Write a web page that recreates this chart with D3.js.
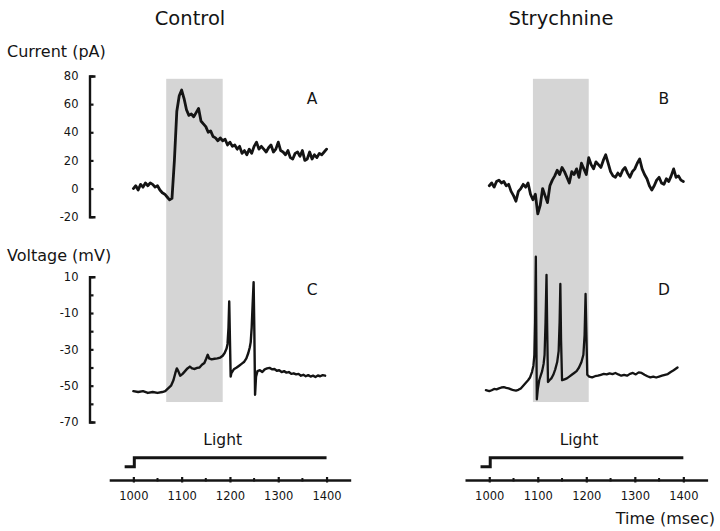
<!DOCTYPE html>
<html>
<head>
<meta charset="utf-8">
<script src="https://cdn.jsdelivr.net/npm/d3@7"></script>
<style>
  html, body { margin: 0; padding: 0; background: #fff; }
  svg { display: block; font-family: "DejaVu Sans", sans-serif; }
</style>
</head>
<body>
<svg id="chart" width="720" height="531"></svg>
<script>
// ---------- DATA ----------
const panelTitles = ["Control", "Strychnine"];
const panelLetters = ["A", "B", "C", "D"];
const currentTicks = [-20, 0, 20, 40, 60, 80];
const voltageTicks = [10, 0, -10, -20, -30, -40, -50, -60, -70];
const voltageLabels = [10, -10, -30, -50, -70];
const timeMajorTicks = [1000, 1100, 1200, 1300, 1400];
const timeMinorTicks = [1050, 1150, 1250, 1350];
const timeDomain = [950, 1450];

// light stimulus (shaded window) per condition, msec
const shadeControl = [1068, 1185];
const shadeStrych = [1090, 1205];

// light step trace
const lightTimes = [982, 1002, 1400];
const lightLevels = [0, 1, 1];

// sample times for current traces (5 ms steps)
const currentTimes = d3.range(1000, 1401, 5);

// A: control current (pA)
const currentControl = [
  0, 2, -1, 3, 1, 4, 2, 4, 3, 1,
  2, -1, -3, -4, -6, -8, -7, 20, 55, 66,
  70, 64, 56, 52, 53, 51, 54, 57, 48, 46,
  44, 40, 41, 37, 36, 34, 36, 34, 35, 31,
  33, 30, 31, 28, 30, 25, 27, 24, 28, 25,
  30, 33, 28, 30, 28, 26, 29, 31, 26, 28,
  33, 27, 26, 24, 27, 22, 21, 25, 26, 23,
  27, 20, 21, 26, 21, 24, 22, 25, 24, 26, 28
];

// B: strychnine current (pA)
const currentStrych = [
  2, 4, 1, 5, 6, 4, 5, 2, 3, -2,
  -5, -9, -2, 0, 3, 1, 4, -4, -8, -4,
  -18, -12, 0, -5, -10, 2, 6, 9, 13, 10,
  15, 12, 8, 4, 12, 10, 14, 8, 18, 14,
  10, 22, 17, 14, 19, 17, 15, 20, 24, 18,
  12, 9, 8, 11, 9, 13, 15, 11, 8, 12,
  14, 18, 21, 14, 10, 7, 2, -1, 2, 6,
  8, 4, 3, 7, 5, 9, 14, 8, 9, 6, 5
];

// C: control voltage (mV)
const voltControlTimes = [
  1000, 1010, 1020, 1030, 1040, 1050, 1060, 1066, 1072, 1078,
  1083, 1087, 1090, 1093, 1097, 1102, 1107, 1112, 1117, 1122,
  1127, 1132, 1137, 1142, 1147, 1151, 1154, 1157, 1162, 1168,
  1174, 1180, 1185, 1189, 1193, 1195, 1197, 1198.5, 1200, 1201.5,
  1203, 1208, 1214, 1219, 1224, 1229, 1234, 1238, 1241, 1243,
  1245, 1247, 1249, 1250.5, 1252, 1254, 1257, 1262, 1267, 1272,
  1277, 1282, 1287, 1292, 1297, 1302, 1307, 1312, 1317, 1322,
  1327, 1332, 1337, 1342, 1347, 1352, 1357, 1362, 1367, 1372,
  1377, 1382, 1387, 1392, 1397
];
const voltControl = [
  -53, -53.5, -53, -54, -53.5, -54, -53.5, -53, -51.5, -50,
  -47, -43, -40.5, -42, -44.5, -43.5, -42, -40.5, -39.5, -40.5,
  -40.8, -40.2, -40, -38.5, -37.5, -35, -33, -35, -35.5, -35.2,
  -35, -34.5, -33.5, -32, -29.5, -27, -18, -3.6, -25, -45,
  -43, -41, -40, -39, -38, -37, -35, -32, -29, -26,
  -18, -5, 7, -20, -55, -45, -42, -41.5, -42.5, -41,
  -40.5, -40.2, -41, -40.8, -41.8, -41.5, -42.5, -42, -42.8, -42.5,
  -43.5, -43.2, -43.8, -43.5, -44.5, -44, -44.8, -44.2, -45, -44.5,
  -45.2, -44.4, -44.8, -44.2, -44.5
];

// D: strychnine voltage (mV)
const voltStrychTimes = [
  993, 1000, 1005, 1010, 1015, 1020, 1025, 1030, 1035, 1040,
  1045, 1050, 1055, 1060, 1065, 1070, 1075, 1080, 1084, 1088,
  1091, 1093, 1094.5, 1096, 1097, 1098, 1100, 1103, 1106, 1109,
  1112, 1114, 1116, 1118, 1119.5, 1121, 1124, 1128, 1132, 1136,
  1140, 1143, 1145, 1146.5, 1148, 1150, 1155, 1160, 1165, 1170,
  1175, 1180, 1185, 1190, 1194, 1196.5, 1198.5, 1200.5, 1202, 1206,
  1212, 1218, 1224, 1230, 1236, 1242, 1248, 1254, 1260, 1266,
  1272, 1278, 1284, 1290, 1296, 1302, 1308, 1314, 1320, 1326,
  1332, 1338, 1344, 1350, 1356, 1362, 1368, 1374, 1380, 1388
];
const voltStrych = [
  -52.5, -53, -52.5, -51.8, -52, -51.5, -51, -50.8, -51.2, -51.5,
  -52, -52.5, -52.7, -52.3, -51.5, -50, -48.5, -47, -45.5, -42.5,
  -39, -33, -15, 21, -20, -57.5, -52, -47, -44.5, -42,
  -38, -33, -15, 11, -20, -48, -47, -46, -44, -41,
  -37, -31, -15, 6, -25, -47, -46.5, -46, -45, -44,
  -43, -42, -40, -37, -33, -22, 0.5, -25, -44, -45,
  -45.4, -44.8, -44.5, -44, -43.5, -43.8, -43.2, -43.6, -43, -43.8,
  -44.5, -44, -44.5, -43.5, -43, -43.8, -42.7, -43, -44, -44.8,
  -45.4, -45, -45.5, -45, -44.5, -44, -43.6, -42.5, -41.5, -40
];

// shading vertical extent (in data units of the two panels)
const shadeTopCurrent = 78;
const shadeBottomVoltage = -59;

// ---------- DRAW ----------
const svg = d3.select("#chart");
const ink = "#141414";

const xL = d3.scaleLinear().domain(timeDomain).range([109.2, 350.7]);
const xR = d3.scaleLinear().domain(timeDomain).range([465.0, 707.6]);
const yCur = d3.scaleLinear().domain([-20, 80]).range([216.7, 76]);
const yVolt = d3.scaleLinear().domain([-70, 10]).range([422, 276.7]);
const yLight = d3.scaleLinear().domain([0, 1]).range([466.7, 457.7]);

// shaded stimulus windows
[[xL, shadeControl], [xR, shadeStrych]].forEach(([x, s]) => {
  svg.append("rect")
    .attr("x", x(s[0])).attr("width", x(s[1]) - x(s[0]))
    .attr("y", yCur(shadeTopCurrent))
    .attr("height", yVolt(shadeBottomVoltage) - yCur(shadeTopCurrent))
    .attr("fill", "#d5d5d5");
});

// titles
svg.append("text").attr("x", 190).attr("y", 25).attr("text-anchor", "middle")
  .attr("font-size", 19.5).attr("fill", ink).text(panelTitles[0]);
svg.append("text").attr("x", 561).attr("y", 25).attr("text-anchor", "middle")
  .attr("font-size", 19.5).attr("fill", ink).text(panelTitles[1]);

// axis labels
svg.append("text").attr("x", 7).attr("y", 57).attr("font-size", 16)
  .attr("fill", ink).text("Current (pA)");
svg.append("text").attr("x", 7).attr("y", 261).attr("font-size", 16)
  .attr("fill", ink).text("Voltage (mV)");
svg.append("text").attr("x", 715).attr("y", 524).attr("text-anchor", "end")
  .attr("font-size", 16).attr("fill", ink).text("Time (msec)");

// panel letters
const letterPos = [[xL, 1370, 104], [xR, 1360, 104], [xL, 1370, 294.5], [xR, 1360, 294.5]];
panelLetters.forEach((L, i) => {
  const [x, t, py] = letterPos[i];
  svg.append("text").attr("x", x(t)).attr("y", py).attr("text-anchor", "middle")
    .attr("font-size", 15.5).attr("fill", ink).text(L);
});

// y axes
function styleAxis(g) {
  g.selectAll("path.domain").attr("stroke", ink).attr("stroke-width", 2.4).attr("fill", "none");
  g.selectAll(".tick line").attr("stroke", ink).attr("stroke-width", 2.2);
  g.selectAll(".tick text").attr("fill", ink).attr("font-size", 11.5)
    .attr("font-family", "DejaVu Sans, sans-serif");
}
const gCur = svg.append("g").attr("transform", "translate(89.5,0)")
  .call(d3.axisLeft(yCur).tickValues(currentTicks).tickFormat(d => String(d))
    .tickSizeInner(-4).tickSizeOuter(-6).tickPadding(11));
styleAxis(gCur);
const gVolt = svg.append("g").attr("transform", "translate(89.5,0)")
  .call(d3.axisLeft(yVolt).tickValues(voltageTicks)
    .tickFormat(d => voltageLabels.includes(d) ? String(d) : "")
    .tickSizeInner(-4).tickSizeOuter(-6).tickPadding(11));
styleAxis(gVolt);

// x axes
[xL, xR].forEach(x => {
  const g = svg.append("g").attr("transform", "translate(0,480)")
    .call(d3.axisBottom(x).tickValues(timeMajorTicks).tickSizeOuter(0).tickSizeInner(3).tickPadding(9)
      .tickFormat(d => String(d)));
  styleAxis(g);
  g.selectAll(".tick line").attr("y1", -3).attr("y2", 2.5);
  g.selectAll(".tick text").attr("font-size", 11.5);
  g.selectAll(".minor").data(timeMinorTicks).enter().append("line")
    .attr("x1", d => x(d)).attr("x2", d => x(d)).attr("y1", -2).attr("y2", 1.5)
    .attr("stroke", ink).attr("stroke-width", 2);
  // light step
  const lightLine = d3.line().x((d, i) => x(lightTimes[i])).y(d => yLight(d)).curve(d3.curveStepAfter);
  svg.append("path").attr("d", lightLine(lightLevels)).attr("fill", "none")
    .attr("stroke", ink).attr("stroke-width", 3);
  svg.append("text").attr("x", x(1185)).attr("y", 445).attr("text-anchor", "middle")
    .attr("font-size", 15.5).attr("fill", ink).text("Light");
});

// traces
function trace(x, y, times, vals, w) {
  const line = d3.line().x((d, i) => x(times[i])).y(d => y(d));
  svg.append("path").attr("d", line(vals)).attr("fill", "none")
    .attr("stroke", ink).attr("stroke-width", w)
    .attr("stroke-linejoin", "round").attr("stroke-linecap", "round");
}
trace(xL, yCur, currentTimes, currentControl, 2.8);
trace(xR, yCur, currentTimes, currentStrych, 2.8);
trace(xL, yVolt, voltControlTimes, voltControl, 2.4);
trace(xR, yVolt, voltStrychTimes, voltStrych, 2.3);
</script>
</body>
</html>
